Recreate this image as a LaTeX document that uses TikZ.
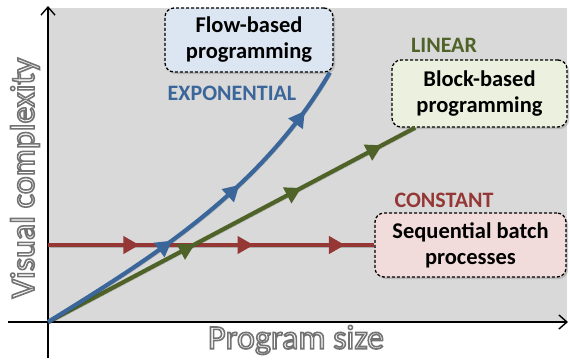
\documentclass[tikz,border=0pt]{standalone}
\usepackage{fontspec}
\setmainfont{Carlito}
\usetikzlibrary{arrows.meta,decorations.markings,shadows}
\definecolor{expblue}{RGB}{58,102,154}
\definecolor{lingreen}{RGB}{79,98,40}
\definecolor{constred}{RGB}{149,55,53}
\definecolor{flowfill}{RGB}{220,230,242}
\definecolor{blockfill}{RGB}{235,241,222}
\definecolor{seqfill}{RGB}{242,220,219}
\newcommand{\outlined}[1]{{\color{white}\special{pdf:literal direct 2 Tr 1.6 w 0.45 G}#1\special{pdf:literal direct 0 Tr}}}

\begin{document}
\begin{tikzpicture}[x=1pt,y=-1pt,
  box/.style={draw,dash pattern=on 3pt off 2pt,line width=1.3pt,rounded corners=9pt,
    align=center,font=\bfseries\fontsize{22.5}{26}\selectfont,
    drop shadow={opacity=0.35,shadow xshift=2pt,shadow yshift=-2pt}},
  growth/.style={font=\bfseries\fontsize{22}{24}\selectfont},
  curve/.style={line width=4.2pt,
    preaction={draw=black,opacity=0.2,transform canvas={shift={(1.5pt,-2pt)}}}},
  marks/.style args={#1/#2/#3}{postaction={decorate},decoration={markings,
    mark=at position #1 with {\arrow{Triangle[length=16pt,width=17pt]}},
    mark=at position #2 with {\arrow{Triangle[length=16pt,width=17pt]}},
    mark=at position #3 with {\arrow{Triangle[length=16pt,width=17pt]}}}}]
\useasboundingbox (0,0) rectangle (570,360);
% plot area
\fill[black!15] (48,8) rectangle (567,322);
% axes
\coordinate (O) at (48,322);
\draw[line width=1.4pt,-{Straight Barb[length=8pt,width=14pt]}] (48,358) -- (48,6);
\draw[line width=1.4pt,-{Straight Barb[length=8pt,width=14pt]}] (8,322) -- (568,322);
\node[font=\fontsize{34}{34}\selectfont] (xlabel) at (296,340) {\outlined{Program size}};
\node[rotate=90,font=\fontsize{34}{34}\selectfont] (ylabel) at (25,178) {\outlined{Visual complexity}};
% boxes
\node[box,fill=flowfill,minimum width=168pt,minimum height=64pt] (flow) at (249,40)
  {Flow-based\\programming};
\node[box,fill=blockfill,minimum width=175pt,minimum height=67pt] (block) at (479.5,93.5)
  {Block-based\\programming};
\node[box,fill=seqfill,minimum width=191pt,minimum height=64pt] (seq) at (470.5,245)
  {Sequential batch\\processes};
% growth labels
\node[growth,text=expblue] (exp) at (232,93) {EXPONENTIAL};
\node[growth,text=lingreen] (lin) at (444,45) {LINEAR};
\node[growth,text=constred] (const) at (444,200) {CONSTANT};
% curves
\coordinate (R) at (48,245);
\draw[curve,constred,marks=0.28/0.63/0.91] (R) -- (seq);
\draw[curve,lingreen,marks=0.4/0.69/0.91] (O) -- (block);
\draw[curve,expblue,marks=0.39/0.62/0.88] (O) .. controls (148,260) and (260,192) .. (flow.-22);
\end{tikzpicture}
\end{document}
